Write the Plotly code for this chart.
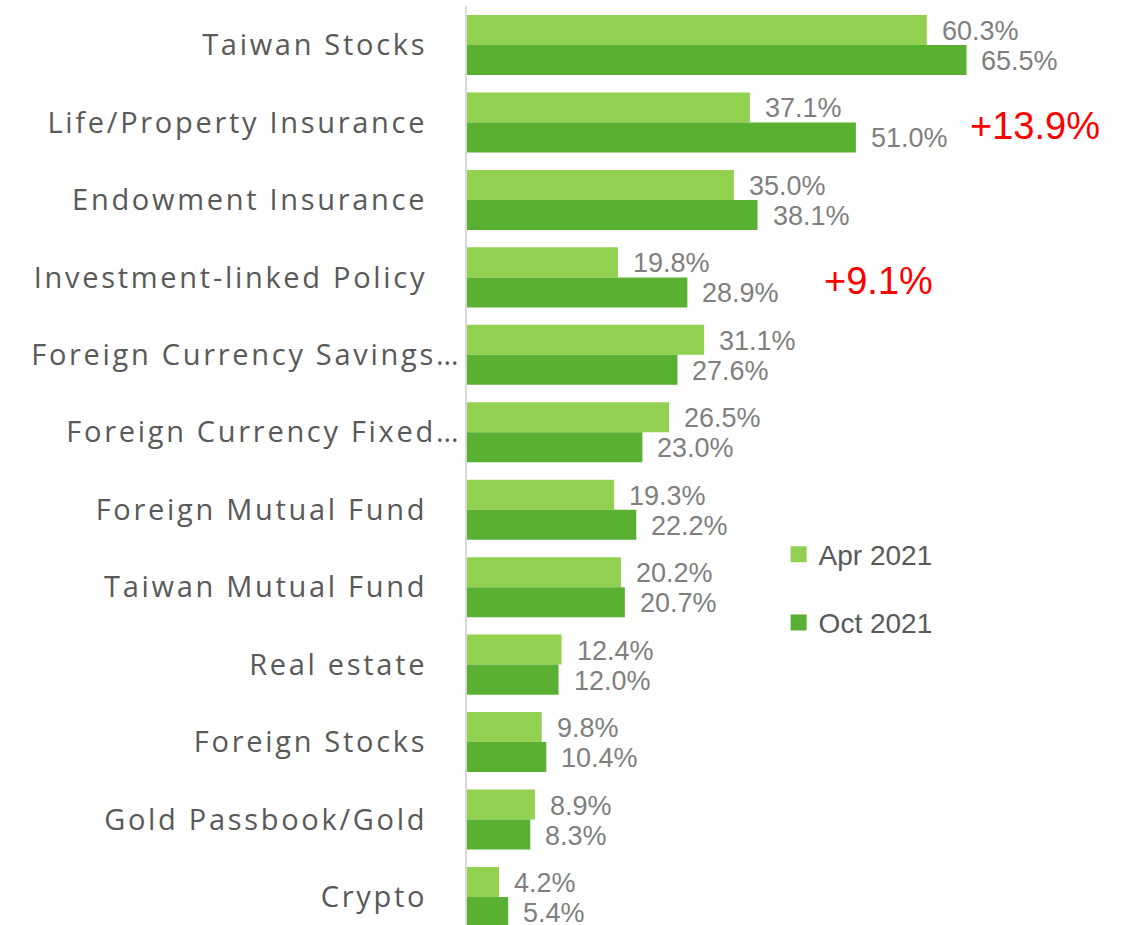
import plotly.graph_objects as go

categories = ["Taiwan Stocks", "Life/Property Insurance", "Endowment Insurance",
              "Investment-linked Policy", "Foreign Currency Savings…",
              "Foreign Currency Fixed…", "Foreign Mutual Fund", "Taiwan Mutual Fund",
              "Real estate", "Foreign Stocks", "Gold Passbook/Gold", "Crypto"]
apr_2021 = [60.3, 37.1, 35.0, 19.8, 31.1, 26.5, 19.3, 20.2, 12.4, 9.8, 8.9, 4.2]
oct_2021 = [65.5, 51.0, 38.1, 28.9, 27.6, 23.0, 22.2, 20.7, 12.0, 10.4, 8.3, 5.4]
series_names = ["Apr 2021", "Oct 2021"]
highlight_categories = ["Life/Property Insurance", "Investment-linked Policy"]
highlight_label_x = [65.7, 46.5]

C_APR = "#92D050"
C_OCT = "#5AB033"
VAL_FONT = dict(family="Liberation Sans, Arial, sans-serif", size=27, color="#7F7F7F")

fig = go.Figure()
for name, vals, col in [(series_names[0], apr_2021, C_APR), (series_names[1], oct_2021, C_OCT)]:
    fig.add_trace(go.Bar(y=categories, x=vals, orientation="h", name=name,
                         marker=dict(color=col, line=dict(width=0)), showlegend=False))
# legend entries with larger square symbols
for i, (name, col) in enumerate([(series_names[0], C_APR), (series_names[1], C_OCT)]):
    fig.add_trace(go.Scatter(x=[None], y=[None], mode="markers", name=name,
                             legendgroup=f"g{i}",
                             marker=dict(symbol="square", size=17, color=col)))

annotations = []
for cat, a, o in zip(categories, apr_2021, oct_2021):
    annotations.append(dict(x=a, y=cat, xref="x", yref="y", text=f"{a:.1f}%",
                            showarrow=False, xanchor="left", yanchor="middle",
                            xshift=13, yshift=14, font=VAL_FONT))
    annotations.append(dict(x=o, y=cat, xref="x", yref="y", text=f"{o:.1f}%",
                            showarrow=False, xanchor="left", yanchor="middle",
                            xshift=13, yshift=-16, font=VAL_FONT))
for cat, lx in zip(highlight_categories, highlight_label_x):
    i = categories.index(cat)
    d = oct_2021[i] - apr_2021[i]
    annotations.append(dict(x=lx, y=cat, xref="x", yref="y", text=f"+{d:.1f}%",
                            showarrow=False, xanchor="left", yanchor="middle",
                            yshift=-4,
                            font=dict(family="Liberation Sans, Arial, sans-serif",
                                      size=38, color="#FF0000")))

fig.update_layout(
    width=1123, height=925,
    margin=dict(l=467, r=0, t=6, b=0),
    paper_bgcolor="white", plot_bgcolor="white",
    barmode="group", bargap=0.225, bargroupgap=0,
    xaxis=dict(range=[0, 86.03], visible=False, showgrid=False, zeroline=False),
    yaxis=dict(type="category", categoryorder="array", categoryarray=categories,
               range=[11.362, -0.504], showgrid=False, zeroline=False,
               showline=True, linecolor="#D9D9D9", linewidth=2, ticks="",
               ticklabelstandoff=32,
               tickfont=dict(family="Open Sans", size=29, color="#595959")),
    legend=dict(x=0.475, y=0.4304, xanchor="left", yanchor="top",
                xref="paper", yref="paper",
                font=dict(family="Liberation Sans, Arial, sans-serif", size=28, color="#595959"),
                tracegroupgap=29, bgcolor="rgba(0,0,0,0)"),
    annotations=annotations,
)

post = ("document.body.style.margin='0';"
        "var gd=document.getElementById('{plot_id}');"
        "gd.querySelectorAll('.ytick text').forEach(function(t){"
        "t.style.letterSpacing='2.7px';"
        "if(t.textContent.slice(-1)==='\\u2026'){t.setAttribute('dx','34');}});")
fig.write_html("out.html", post_script=post, config={"displayModeBar": False})
